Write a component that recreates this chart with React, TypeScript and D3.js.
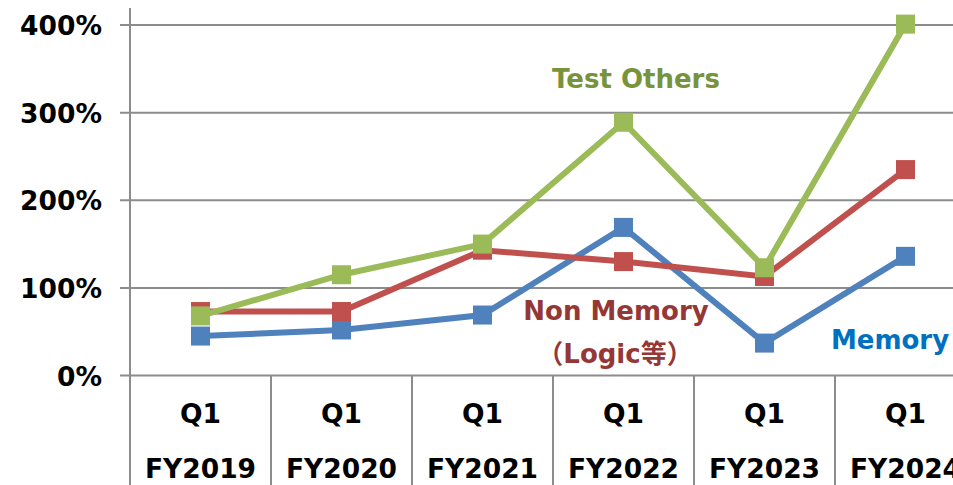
import React from 'react'
import * as d3 from 'd3'

// Chart values
const periods: string[] = ['FY2019', 'FY2020', 'FY2021', 'FY2022', 'FY2023', 'FY2024']
const quarterLabels: string[] = ['Q1', 'Q1', 'Q1', 'Q1', 'Q1', 'Q1']
const memory: number[] = [45, 52, 69, 169, 37, 136]
const nonMemory: number[] = [73, 73, 143, 130, 113, 235]
const testOthers: number[] = [68, 115, 150, 289, 123, 401]
const yTicks: number[] = [0, 100, 200, 300, 400]

const seriesList = [
  { name: 'Memory', values: memory, color: '#4F81BD' },
  { name: 'Non Memory', values: nonMemory, color: '#C0504D' },
  { name: 'Test Others', values: testOthers, color: '#9BBB59' }
]

const WIDTH = 953
const HEIGHT = 485
const FONT = '"DejaVu Sans", Verdana, "Noto Sans CJK JP", sans-serif'
const GRID = '#8c8c8c'

/**
 * Series line with square markers.
 */
function Series ({ values, color, xScale, yScale }: any) {
  const half = xScale.bandwidth() / 2
  const line = d3.line<number>()
    .x((d, i) => xScale(periods[i]) + half)
    .y((d) => yScale(d))

  const size = 19
  return (
    <g>
      <path d={line(values) || ''} fill='none' stroke={color} strokeWidth={6} strokeLinejoin='miter' />
      {values.map((v: number, i: number) => (
        <rect
          key={i}
          x={xScale(periods[i]) + half - size / 2}
          y={yScale(v) - size / 2}
          width={size}
          height={size}
          fill={color}
        />
      ))}
    </g>
  )
}

/**
 * Main chart
 */
export default function App () {
  const left = 130
  const right = 976
  const axisBottom = 375.5

  const xScale = d3.scaleBand<string>()
    .domain(periods)
    .range([left, right])
    .padding(0)

  const yScale = d3.scaleLinear()
    .domain([0, 400])
    .range([axisBottom, 25])

  const bw = xScale.bandwidth()

  return (
    <svg
      width={WIDTH}
      height={HEIGHT}
      style={{ position: 'absolute', left: 0, top: 0, background: '#fff' }}
      fontFamily={FONT}
      fontWeight='bold'
    >
      {/* horizontal gridlines and y ticks */}
      {yTicks.map((t) => (
        <g key={t}>
          <line x1={left - 10} x2={right} y1={yScale(t)} y2={yScale(t)} stroke={GRID} strokeWidth={2} />
          <text x={102} y={yScale(t) + 10} textAnchor='end' fontSize={26.5} fill='#000'>{t}%</text>
        </g>
      ))}

      {/* y axis line */}
      <line x1={left} x2={left} y1={8} y2={HEIGHT} stroke={GRID} strokeWidth={2} />

      {/* category separators */}
      {periods.map((p) => (
        <line key={p} x1={(xScale(p) as number) + bw} x2={(xScale(p) as number) + bw} y1={axisBottom} y2={HEIGHT} stroke={GRID} strokeWidth={2} />
      ))}

      {/* category labels */}
      {periods.map((p, i) => (
        <g key={p}>
          <text x={(xScale(p) as number) + bw / 2} y={423} textAnchor='middle' fontSize={26.5} fill='#000'>{quarterLabels[i]}</text>
          <text x={(xScale(p) as number) + bw / 2} y={478} textAnchor='middle' fontSize={26.5} fill='#000'>{p}</text>
        </g>
      ))}

      {/* series */}
      {seriesList.map((s) => (
        <Series key={s.name} values={s.values} color={s.color} xScale={xScale} yScale={yScale} />
      ))}

      {/* series labels */}
      <text x={636} y={88} textAnchor='middle' fontSize={26} fill='#77933C'>Test Others</text>
      <text x={616} y={320} textAnchor='middle' fontSize={26} fill='#953735'>Non Memory</text>
      <text x={615} y={363} textAnchor='middle' fontSize={26} fill='#953735'>（Logic等）</text>
      <text x={890} y={349} textAnchor='middle' fontSize={26} fill='#0070C0'>Memory</text>
    </svg>
  )
}
